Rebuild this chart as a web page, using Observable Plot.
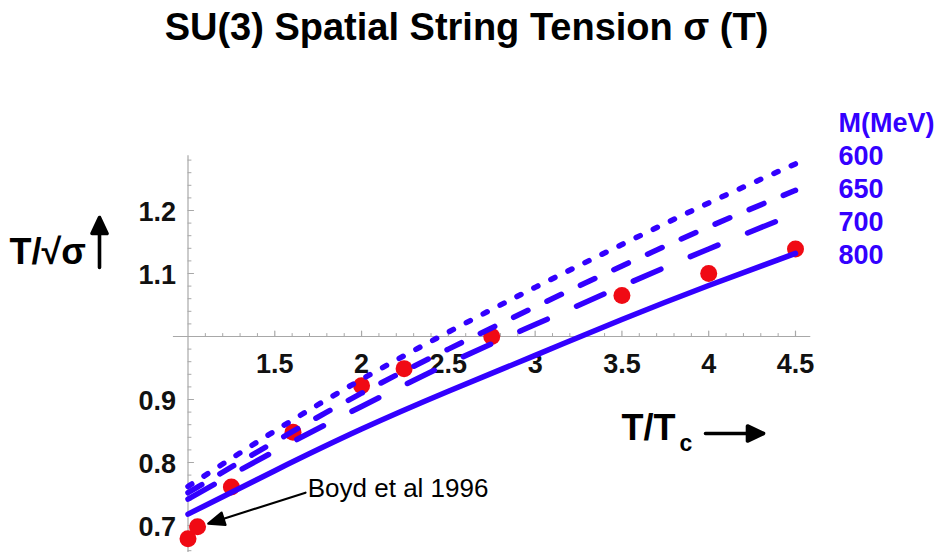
<!DOCTYPE html>
<html><head><meta charset="utf-8">
<script src="https://cdn.jsdelivr.net/npm/d3@7"></script>
<script src="https://cdn.jsdelivr.net/npm/@observablehq/plot@0.6"></script>
<style>body{margin:0;background:#fff} svg{display:block}</style>
</head><body><div id="chart"></div>
<script>
// ---- data ----
const tTc  = [1, 1.5, 2, 2.5, 3, 3.5, 4, 4.5];
const m600 = [0.762, 0.850, 0.932, 1.007, 1.078, 1.146, 1.212, 1.274];
const m650 = [0.752, 0.833, 0.910, 0.980, 1.047, 1.112, 1.174, 1.232];
const m700 = [0.742, 0.818, 0.889, 0.957, 1.019, 1.080, 1.139, 1.195];
const m800 = [0.718, 0.787, 0.853, 0.913, 0.970, 1.027, 1.081, 1.132];
const masses = ["600", "650", "700", "800"];

const latT = [1.0, 1.055, 1.25, 1.605, 2.0, 2.245, 2.75, 3.5, 4.0, 4.5];
const latV = [0.679, 0.698, 0.761, 0.848, 0.922, 0.949, 1.0, 1.065, 1.10, 1.139];

const xTicks = [1.5, 2, 2.5, 3, 3.5, 4, 4.5];
const yTicks = [0.7, 0.8, 0.9, 1.1, 1.2];
const xMinor = d3.range(11, 46).map(i => i / 10).filter(v => !xTicks.includes(v));
const yMinor = d3.range(33, 65).map(i => +(i * 0.02).toFixed(2)).filter(v => !yTicks.includes(v) && v !== 1);
const xAxisExtent = [0.916, 4.588];
const yAxisExtent = [0.655, 1.287];

const titleText = "SU(3) Spatial String Tension σ (T)";
const yLabel = "T/√σ";
const legendTitle = "M(MeV)";
const boyd = {label: "Boyd et al 1996", x: 1.69, y: 0.759, tailX: 1.677, tailY: 0.752};

// ---- build tables ----
const seriesValues = [m600, m650, m700, m800];
const dashes = ["4.5,14.5", "16,21", "30,32", null];
const lineData = masses.flatMap((m, k) => tTc.map((t, i) => ({m, t, v: seriesValues[k][i]})));
const points = latT.map((t, i) => ({t, v: latV[i]}));

const blue = "#3300ff";
const red = "#f00a14";
const axisGray = "#a8a8a8";
const font = "Liberation Sans, Arial, Helvetica, sans-serif";

const tickShape = {draw(ctx, l) { ctx.moveTo(0, 0); ctx.lineTo(0, -l); }};
const filledArrow = (hl, hw) => ({draw(ctx, l) {
  ctx.moveTo(0, 0); ctx.lineTo(0, -l + hl * 0.7);
  ctx.moveTo(-hw, -l + hl); ctx.lineTo(0, -l); ctx.lineTo(hw, -l + hl); ctx.closePath();
}});

const fmt = d => String(d);

const lineMarks = masses.map((m, k) => Plot.line(lineData.filter(d => d.m === m), {
  x: "t", y: "v", stroke: blue, strokeWidth: 5.5, curve: "natural",
  strokeLinecap: "round", strokeDasharray: dashes[k] ?? undefined
}));

const label = (text, dx, dy, opts = {}) => Plot.text([text], {
  frameAnchor: "top-left", lineAnchor: "middle", dx, dy, text: d => d, fontFamily: font, ...opts
});

const chart = Plot.plot({
  width: 939, height: 552, margin: 0,
  x: {domain: [1, 4.5], range: [187.5, 795], axis: null},
  y: {domain: [0.7, 1.2], range: [525, 210], axis: null},
  style: {fontFamily: font, background: "white", overflow: "visible"},
  marks: [
    // axes crossing at (1, 1)
    Plot.ruleY([1], {x1: xAxisExtent[0], x2: xAxisExtent[1], stroke: axisGray, strokeWidth: 1.2}),
    Plot.ruleX([1], {y1: yAxisExtent[0], y2: yAxisExtent[1], stroke: axisGray, strokeWidth: 1.2}),
    Plot.vector(xTicks, {x: d => d, y: 1, length: 5.5, rotate: 0, anchor: "start", shape: tickShape, stroke: axisGray, strokeWidth: 1.2}),
    Plot.vector(xMinor, {x: d => d, y: 1, length: 3, rotate: 0, anchor: "start", shape: tickShape, stroke: axisGray, strokeWidth: 1}),
    Plot.vector(yTicks, {x: 1, y: d => d, length: 5.5, rotate: 90, anchor: "start", shape: tickShape, stroke: axisGray, strokeWidth: 1.2}),
    Plot.vector(yMinor, {x: 1, y: d => d, length: 3, rotate: 90, anchor: "start", shape: tickShape, stroke: axisGray, strokeWidth: 1}),
    Plot.text(xTicks, {x: d => d, y: 1, dy: 28, text: fmt, fontSize: 27, fontWeight: "bold", fill: "#111"}),
    Plot.text(yTicks, {x: 1, y: d => d, dx: -12, dy: 2, text: fmt, textAnchor: "end", fontSize: 27, fontWeight: "bold", fill: "#111"}),
    // lattice data
    Plot.dot(points, {x: "t", y: "v", r: 8.5, fill: red, stroke: "none"}),
    // model curves
    ...lineMarks,
    // annotation
    Plot.text([boyd], {x: "x", y: "y", text: "label", textAnchor: "start", fontSize: 26, fill: "#000"}),
    Plot.vector([boyd], {x: "tailX", y: "tailY", length: 102, rotate: 252.4, anchor: "start",
      shape: filledArrow(16, 6.5), stroke: "#000", fill: "#000", strokeWidth: 2.2}),
    // titles and labels
    label(titleText, 466, 27, {textAnchor: "middle", fontSize: 38, fontWeight: "bold", fill: "#000"}),
    label(yLabel, 9, 252, {textAnchor: "start", fontSize: 36, fontWeight: "bold", fill: "#000"}),
    Plot.vector([0], {frameAnchor: "top-left", dx: 99, dy: 267, length: 50, rotate: 0, anchor: "start",
      shape: filledArrow(16, 7.5), stroke: "#000", fill: "#000", strokeWidth: 3.6}),
    label("T/T", 621, 428, {textAnchor: "start", fontSize: 36, fontWeight: "bold", fill: "#000"}),
    label("c", 679, 443, {textAnchor: "start", fontSize: 23, fontWeight: "bold", fill: "#000"}),
    Plot.vector([0], {frameAnchor: "top-left", dx: 705, dy: 433, length: 58, rotate: 90, anchor: "start",
      shape: filledArrow(16, 7.5), stroke: "#000", fill: "#000", strokeWidth: 3.6}),
    label(legendTitle, 838, 123, {textAnchor: "start", fontSize: 27, fontWeight: "bold", fill: blue}),
    ...masses.map((m, k) => label(m, 838, 156 + k * 33, {textAnchor: "start", fontSize: 27, fontWeight: "bold", fill: blue}))
  ]
});
document.getElementById("chart").append(chart);
</script>
</body></html>
